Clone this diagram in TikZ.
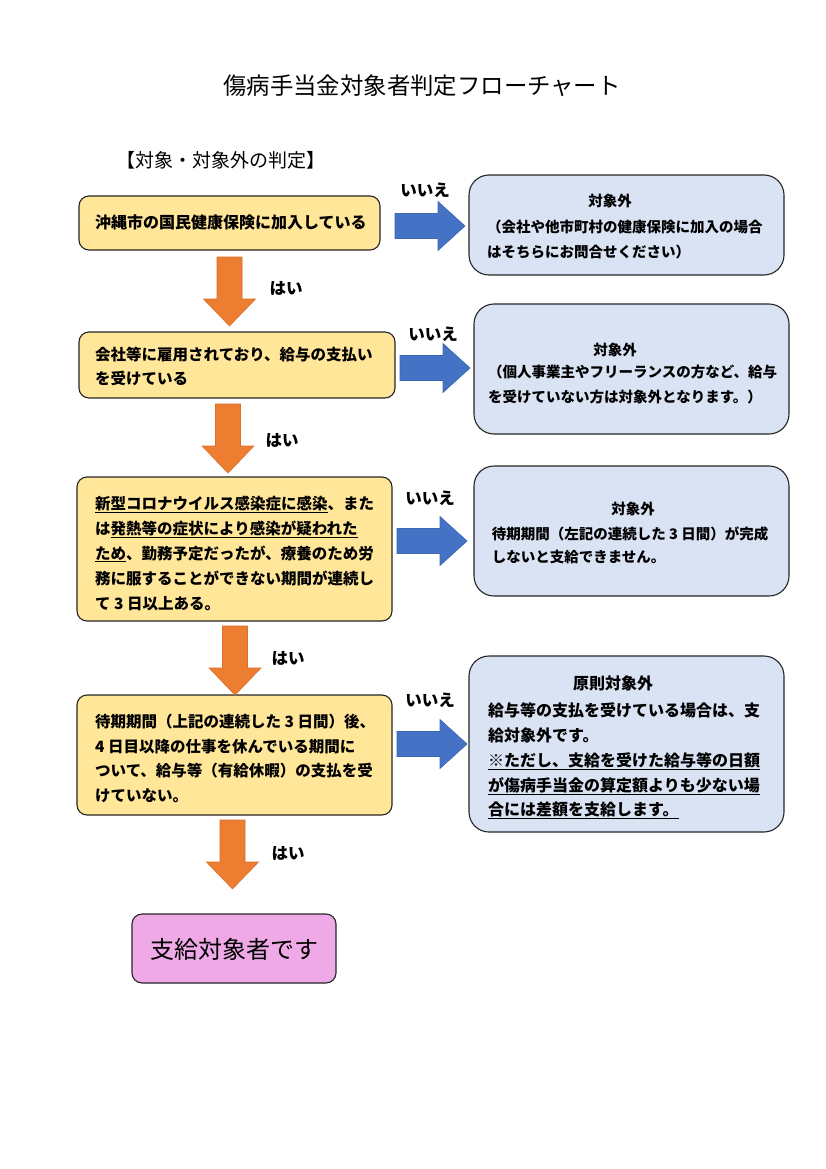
\documentclass[tikz,border=0pt]{standalone}
\usepackage{fontspec}
\setmainfont{Noto Sans CJK JP}
\definecolor{yellowfill}{HTML}{FFE699}
\definecolor{bluefill}{HTML}{DAE3F3}
\definecolor{pinkfill}{HTML}{EEA9E6}
\definecolor{boxline}{HTML}{262626}
\definecolor{arrowblue}{HTML}{4472C4}
\definecolor{arrowblueedge}{HTML}{3D67B2}
\definecolor{arroworange}{HTML}{ED7D31}
\definecolor{arroworangeedge}{HTML}{D9712A}
\tikzset{
  ybox/.style={draw=boxline, fill=yellowfill, rounded corners=10pt, line width=1.1pt, inner sep=0pt},
  bbox/.style={draw=boxline, fill=bluefill, rounded corners=20pt, line width=1.1pt, inner sep=0pt},
  pbox/.style={draw=boxline, fill=pinkfill, rounded corners=10pt, line width=1.1pt, inner sep=0pt},
  ltxt/.style={anchor=base west, inner sep=0pt, font=\bfseries\fontsize{15.5}{18}\selectfont},
  rtxt/.style={anchor=base west, inner sep=0pt, font=\bfseries\fontsize{14.5}{17}\selectfont},
  rtitle/.style={anchor=base, inner sep=0pt, font=\bfseries\fontsize{14.5}{17}\selectfont},
  rtxtb/.style={anchor=base west, inner sep=0pt, font=\bfseries\fontsize{16}{18}\selectfont},
  rtitleb/.style={anchor=base, inner sep=0pt, font=\bfseries\fontsize{16}{18}\selectfont},
  yeslbl/.style={anchor=center, inner sep=0pt, font=\bfseries\fontsize{16.5}{18}\selectfont},
  rarrow/.pic={\path[draw=arrowblueedge, fill=arrowblue, line width=0.6pt]
     (0,-12.5) -- (43,-12.5) -- (43,-24.5) -- (70,0) -- (43,24.5) -- (43,12.5) -- (0,12.5) -- cycle;},
  darrow/.pic={\path[draw=arroworangeedge, fill=arroworange, line width=0.6pt]
     (-12.5,0) -- (-12.5,42) -- (-26,42) -- (0,69) -- (26,42) -- (12.5,42) -- (12.5,0) -- cycle;},
}
\begin{document}
\begin{tikzpicture}[x=1pt,y=-1pt]
\useasboundingbox[fill=white] (0,0) rectangle (826,1169);

% title
\node[anchor=center, inner sep=0pt, font=\fontsize{23.4}{26}\selectfont] (title) at (422,86) {傷病手当金対象者判定フローチャート};
\node[anchor=center, inner sep=0pt, font=\fontsize{19}{21}\selectfont] (sub) at (221,160) {【対象・対象外の判定】};

% left boxes
\node[ybox, minimum width=301pt, minimum height=54pt] (q1) at (229.5,223) {};
\node[ybox, minimum width=316pt, minimum height=66pt] (q2) at (237,365) {};
\node[ybox, minimum width=315pt, minimum height=144pt] (q3) at (234.5,549) {};
\node[ybox, minimum width=315pt, minimum height=120pt] (q4) at (234.5,755) {};
\node[pbox, minimum width=204pt, minimum height=69pt] (fin) at (234,948.5) {};

% right boxes
\node[bbox, minimum width=315pt, minimum height=100pt] (r1) at (626.5,225) {};
\node[bbox, minimum width=315pt, minimum height=130pt] (r2) at (631.5,369) {};
\node[bbox, minimum width=315pt, minimum height=130pt] (r3) at (631.5,531) {};
\node[bbox, minimum width=315pt, minimum height=176pt] (r4) at (626.5,744) {};

% left texts
\node[ltxt, font=\bfseries\fontsize{16}{18}\selectfont] (q1a) at (95,228.8) {沖縄市の国民健康保険に加入している};
\node[ltxt] (q2a) at (95,360.7) {会社等に雇用されており、給与の支払い};
\node[ltxt] (q2b) at (95,384.7) {を受けている};
\node[ltxt] (q3a) at (95,509) {\underline{新型コロナウイルス感染症に感染}、また};
\node[ltxt] (q3b) at (95,534) {は\underline{発熱等の症状により感染が疑われた}};
\node[ltxt] (q3c) at (95,559) {\underline{ため}、勤務予定だったが、療養のため労};
\node[ltxt] (q3d) at (95,584) {務に服することができない期間が連続し};
\node[ltxt] (q3e) at (95,609) {て 3 日以上ある。};
\node[ltxt] (q4a) at (95,727.5) {待期期間（上記の連続した 3 日間）後、};
\node[ltxt] (q4b) at (95,752) {4 日目以降の仕事を休んでいる期間に};
\node[ltxt] (q4c) at (95,776.5) {ついて、給与等（有給休暇）の支払を受};
\node[ltxt] (q4d) at (95,801) {けていない。};
\node[anchor=center, inner sep=0pt, font=\fontsize{24}{26}\selectfont] (fint) at (234,949) {支給対象者です};

% right texts
\node[rtitle] (r1t) at (610,207) {対象外};
\node[rtxt] (r1a) at (487,232) {（会社や他市町村の健康保険に加入の場合};
\node[rtxt] (r1b) at (487,257) {はそちらにお問合せください）};
\node[rtitle] (r2t) at (615,355.4) {対象外};
\node[rtxt] (r2a) at (488,377) {（個人事業主やフリーランスの方など、給与};
\node[rtxt] (r2b) at (488,402) {を受けていない方は対象外となります。）};
\node[rtitle] (r3t) at (633,514.7) {対象外};
\node[rtxt] (r3a) at (491.7,539.4) {待期期間（左記の連続した 3 日間）が完成};
\node[rtxt] (r3b) at (491.7,562) {しないと支給できません。};
\node[rtitleb] (r4t) at (613,689.2) {原則対象外};
\node[rtxtb] (r4a) at (488,716) {給与等の支払を受けている場合は、支};
\node[rtxtb] (r4b) at (488,741) {給対象外です。};
\node[rtxtb] (r4c) at (488,766) {\underline{※ただし、支給を受けた給与等の日額}};
\node[rtxtb] (r4d) at (488,791) {\underline{が傷病手当金の算定額よりも少ない場}};
\node[rtxtb] (r4e) at (488,815) {\underline{合には差額を支給します。}};

% arrows
\pic at (395,226) {rarrow};
\pic at (400,368) {rarrow};
\pic at (397,541) {rarrow};
\pic at (397,744) {rarrow};
\pic at (229.5,257) {darrow};
\pic at (228,404) {darrow};
\pic at (235,626) {darrow};
\pic at (232.5,820) {darrow};

% labels
\node[yeslbl] (n1) at (425,190) {いいえ};
\node[yeslbl] (n2) at (433,334) {いいえ};
\node[yeslbl] (n3) at (430,498) {いいえ};
\node[yeslbl] (n4) at (430,700) {いいえ};
\node[yeslbl] (y1) at (286,288) {はい};
\node[yeslbl] (y2) at (282,440) {はい};
\node[yeslbl] (y3) at (288,658) {はい};
\node[yeslbl] (y4) at (288,853) {はい};
\end{tikzpicture}
\end{document}
